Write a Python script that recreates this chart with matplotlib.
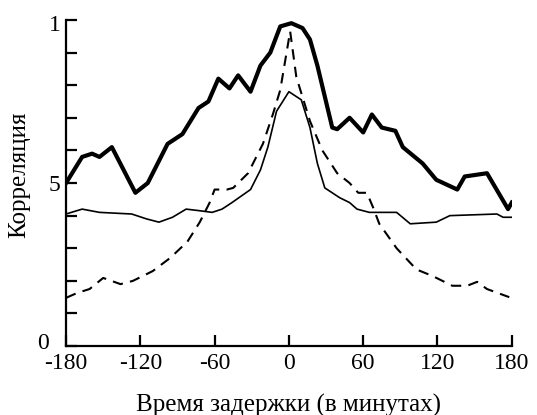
import numpy as np
import matplotlib
matplotlib.use('Agg')
from matplotlib import pyplot as plt
from matplotlib import transforms

plt.rcParams['font.family'] = ['Liberation Serif', 'DejaVu Serif']

# delay (minutes) and correlation
thick_x = [-180, -167, -159, -153, -143, -124, -114, -98, -86, -73, -65, -57, -48, -41,
           -31, -23, -15, -7, 2, 11, 17, 23, 35, 39, 49, 60, 67, 75, 86, 92, 108, 119,
           136, 142, 160, 177, 180]
thick_y = [0.50, 0.58, 0.59, 0.58, 0.61, 0.47, 0.50, 0.62, 0.65, 0.73, 0.75, 0.82, 0.79, 0.83,
           0.78, 0.86, 0.90, 0.98, 0.99, 0.975, 0.94, 0.86, 0.67, 0.665, 0.70, 0.655, 0.71, 0.67,
           0.66, 0.61, 0.56, 0.51, 0.48, 0.52, 0.53, 0.42, 0.44]

thin_x = [-180, -167, -153, -127, -115, -105, -94, -83, -72, -62, -54, -46, -31, -23, -17,
          -10, 0, 10, 17, 23, 29, 41, 49, 55, 65, 87, 98, 119, 130, 168, 173, 180]
thin_y = [0.405, 0.42, 0.41, 0.405, 0.39, 0.38, 0.395, 0.42, 0.415, 0.41, 0.42, 0.44, 0.48,
          0.54, 0.61, 0.72, 0.78, 0.755, 0.67, 0.56, 0.485, 0.455, 0.44, 0.42, 0.41, 0.41,
          0.375, 0.38, 0.40, 0.405, 0.395, 0.395]

dash_x = [-180, -171, -161, -150, -136, -126, -110, -96, -82, -72, -64, -60, -50, -45, -33,
          -21, -13, -7, 1, 6, 17, 27, 39, 49, 56, 63, 68, 73, 87, 103, 116, 132, 144, 152,
          160, 178]
dash_y = [0.148, 0.163, 0.175, 0.209, 0.19, 0.20, 0.23, 0.27, 0.32, 0.38, 0.44, 0.48, 0.48,
          0.485, 0.53, 0.62, 0.71, 0.785, 0.965, 0.825, 0.69, 0.60, 0.53, 0.50, 0.47, 0.47,
          0.425, 0.375, 0.30, 0.235, 0.215, 0.185, 0.185, 0.197, 0.175, 0.15]

x_ticks = [-180, -120, -60, 0, 60, 120, 180]
y_ticks = [0, 0.1, 0.2, 0.3, 0.4, 0.5, 0.6, 0.7, 0.8, 0.9, 1.0]
y_labels = ['0', '', '', '', '', '5', '', '', '', '', '1']

fig = plt.figure(figsize=(5.37, 4.15), dpi=100)
ax = fig.add_axes([0.123, 0.166, 0.830, 0.786])

ax.plot(thick_x, thick_y, color='black', lw=3.0, solid_joinstyle='round')
ax.plot(thin_x, thin_y, color='black', lw=1.2)
ax.plot(dash_x, dash_y, color='black', lw=1.5, dashes=(5, 3.5))

ax.set_xlim(-180, 180)
ax.set_ylim(0, 1)
ax.spines['top'].set_visible(False)
ax.spines['right'].set_visible(False)
for s in ['left', 'bottom']:
    ax.spines[s].set_linewidth(1.6)
ax.set_xticks(x_ticks)
ax.set_xticklabels([str(t) for t in x_ticks])
ax.set_yticks(y_ticks)
ax.set_yticklabels(y_labels)
ax.tick_params(direction='in', length=8, width=1.6, labelsize=17)
ax.tick_params(axis='x', pad=5)
ax.tick_params(axis='y', pad=4)

# the "0" on the y axis stands further left and a little above its tick,
# "1" a little below its tick
ylabs = ax.get_yticklabels()
ylabs[0].set_transform(ylabs[0].get_transform() + transforms.ScaledTranslation(-0.12, 0.05, fig.dpi_scale_trans))
ylabs[-1].set_transform(ylabs[-1].get_transform() + transforms.ScaledTranslation(0, -0.03, fig.dpi_scale_trans))

ax.set_xlabel('Время задержки (в минутах)', fontsize=18)
ax.xaxis.set_label_coords(0.5, -0.145)
ax.set_ylabel('Корреляция', fontsize=18)
ax.yaxis.set_label_coords(-0.08, 0.525)

fig.savefig('out.png', dpi=100)
